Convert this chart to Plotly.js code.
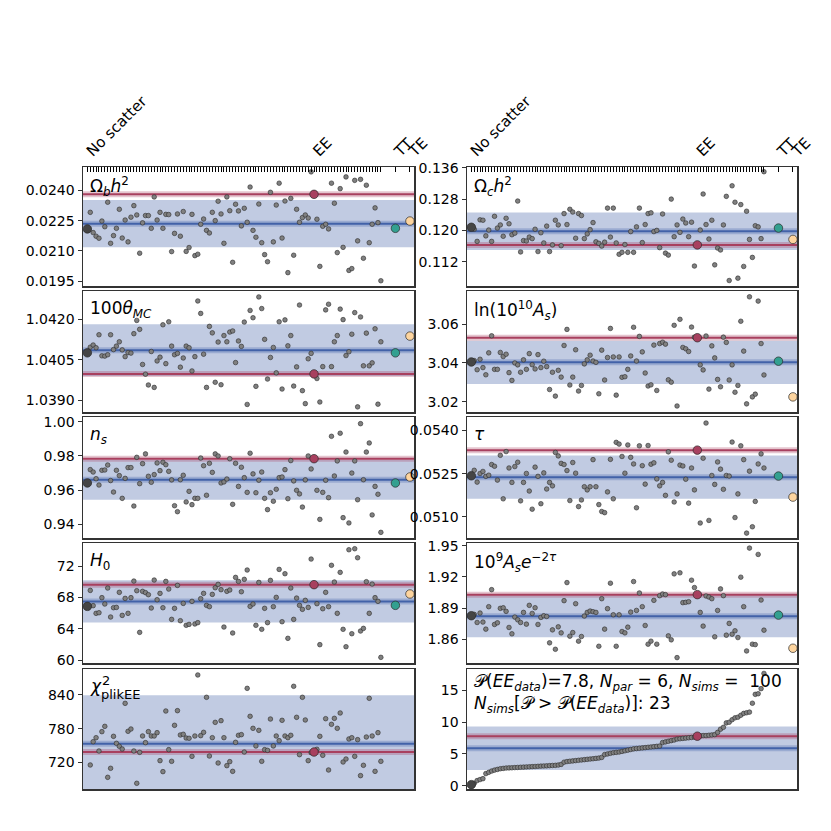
<!DOCTYPE html>
<html><head><meta charset="utf-8">
<script src="https://cdn.plot.ly/plotly-3.0.1.min.js"></script>
<style>html,body{margin:0;padding:0;background:#fff}</style>
</head><body><div id="chart" style="width:831px;height:831px"></div>
<script>
// ---------------- DATA ----------------
const panelLabels = [
  "Ω<sub><i>b</i></sub><i>h</i><sup>2</sup>",
  "Ω<sub><i>c</i></sub><i>h</i><sup>2</sup>",
  "100<i>θ</i><sub><i>MC</i></sub>",
  "ln(10<sup>10</sup><i>A</i><sub><i>s</i></sub>)",
  "<i>n</i><sub><i>s</i></sub>",
  "<i>τ</i>",
  "<i>H</i><sub>0</sub>",
  "10<sup>9</sup><i>A</i><sub><i>s</i></sub><i>e</i><sup>−2<i>τ</i></sup>",
  "<i>χ</i>",
  ""
];
const chi2Sup = "2", chi2Sub = "plikEE";
const topTickLabels = {0: "No scatter", 78: "EE", 106: "TT", 111: "TE"};
const eeIndex = 78, ttIndex = 106, teIndex = 111, nIndex = 101;

const omegabSims = [0.02291,0.02191,0.02173,0.02163,0.02248,0.02220,0.02341,0.02138,0.02176,0.02212,
0.02306,0.02164,0.02253,0.02145,0.02267,0.02324,0.02278,0.02089,0.02239,0.02275,
0.02275,0.02212,0.02367,0.02253,0.02291,0.02212,0.02281,0.02280,0.02097,0.02187,
0.02283,0.02173,0.02295,0.02098,0.02117,0.02281,0.02077,0.02084,0.02232,0.02258,
0.02202,0.02189,0.02291,0.02250,0.02346,0.02283,0.02138,0.02367,0.02299,0.02044,
0.02331,0.02298,0.02224,0.02311,0.02242,0.02416,0.02202,0.02168,0.02332,0.02141,
0.02082,0.02047,0.02390,0.02145,0.02327,0.02435,0.02164,0.02347,0.01993,0.02360,
0.02079,0.02306,0.02242,0.02265,0.02278,0.02263,0.02491,
0.02257,0.02024,0.02222,0.02232,0.02209,0.02435,0.02336,0.02092,0.02408,0.02118,0.02466,0.02004,0.02013,0.02449,0.02150,0.02454,0.02064,0.02425,0.02141,0.02232,0.02313,0.02240,0.01953];

const omegacSims = [0.1203,0.1172,0.1227,0.1226,0.1186,0.1201,0.1172,0.1236,0.1206,0.1214,
0.1185,0.1231,0.1217,0.1189,0.1193,0.1275,0.1145,0.1174,0.1173,0.1183,
0.1179,0.1203,0.1146,0.1194,0.1168,0.1211,0.1146,0.1163,0.1226,0.1214,
0.1161,0.1243,0.1215,0.1254,0.1247,0.1180,0.1243,0.1238,0.1179,0.1191,
0.1202,0.1220,0.1171,0.1167,0.1160,0.1170,0.1257,0.1183,0.1257,0.1168,
0.1139,0.1144,0.1164,0.1144,0.1197,0.1144,0.1209,0.1257,0.1169,0.1215,
0.1243,0.1245,0.1197,0.1200,0.1156,0.1242,0.1142,0.1137,0.1280,0.1184,
0.1214,0.1195,0.1229,0.1219,0.1184,0.1221,0.1109,
0.1201,0.1293,0.1215,0.1178,0.1226,0.1112,0.1155,0.1150,0.1214,0.1287,0.1072,0.1314,0.1272,0.1078,0.1266,0.1108,0.1249,0.1177,0.1131,0.1212,0.1209,0.1179,0.1350];

const thetaSims = [1.04097,1.04105,1.04095,1.04143,1.04065,1.04064,1.04069,1.04143,1.04088,1.04101,
1.04117,1.04087,1.04062,1.04077,1.04075,1.04147,1.04196,1.04163,1.04033,1.03997,
1.03957,1.04081,1.03948,1.04046,1.04060,1.04180,1.04036,1.04191,1.04101,1.04069,
1.04074,1.04023,1.04057,1.04101,1.04095,1.04009,1.04062,1.04268,1.04222,1.04071,
1.03948,1.04174,1.04150,1.03967,1.04116,1.03958,1.04140,1.04117,1.04153,1.04157,
1.04040,1.04120,1.04100,1.04190,
1.03885,1.04233,1.04206,1.03952,1.04283,1.04240,1.04126,1.03979,1.04059,1.04096,1.04002,1.04191,1.03942,1.04198,1.04102,1.04140,1.03953,1.04024,1.04253,1.03936,1.03888,1.04054,1.04074,
1.03981,1.03894,1.04025,1.04235,1.04256,1.04025,1.04117,1.04140,1.04238,1.04199,1.04066,1.04080,1.04145,1.04225,1.03876,1.04209,1.04028,1.04149,1.04028,1.04039,1.04165,1.03886,1.04117];

const lnAsSims = [3.0412,3.0365,3.0419,3.0376,3.0339,3.0452,3.0540,3.0367,3.0367,3.0454,
3.0433,3.0445,3.0350,3.0310,3.0400,3.0390,3.0352,3.0416,3.0367,3.0448,
3.0391,3.0369,3.0443,3.0376,3.0409,3.0381,3.0263,3.0352,3.0229,3.0362,
3.0327,3.0490,3.0573,3.0286,3.0327,3.0468,3.0255,3.0284,3.0395,3.0416,
3.0440,3.0410,3.0403,3.0241,3.0466,3.0312,3.0428,3.0578,3.0431,3.0234,
3.0431,3.0326,3.0329,3.0367,3.0436,3.0584,3.0410,3.0537,3.0457,3.0348,
3.0281,3.0287,3.0492,3.0258,3.0500,3.0507,3.0497,3.0313,3.0301,3.0594,
3.0178,3.0625,3.0480,3.0473,3.0459,3.0585,3.0533,
3.0390,3.0364,3.0539,3.0265,3.0488,3.0426,3.0315,3.0277,3.0533,3.0506,3.0312,3.0390,3.0249,3.0284,3.0615,3.0461,3.0189,3.0741,3.0225,3.0239,3.0719,3.0500,3.0338];

const nsSims = [0.9720,0.9706,0.9667,0.9630,0.9716,0.9718,0.9747,0.9656,0.9589,0.9716,
0.9685,0.9552,0.9669,0.9732,0.9732,0.9507,0.9792,0.9638,0.9755,0.9812,
0.9681,0.9646,0.9691,0.9759,0.9714,0.9763,0.9749,0.9710,0.9660,0.9509,
0.9474,0.9661,0.9687,0.9531,0.9593,0.9515,0.9552,0.9552,0.9788,0.9743,
0.9570,0.9757,0.9704,0.9812,0.9800,0.9642,0.9648,0.9665,0.9784,0.9517,
0.9757,0.9622,0.9734,0.9673,0.9587,0.9816,0.9695,0.9585,0.9658,0.9706,
0.9552,0.9486,0.9585,0.9535,0.9605,0.9673,0.9677,0.9720,0.9550,0.9773,
0.9654,0.9599,0.9578,0.9501,0.9660,0.9800,0.9724,
0.9599,0.9429,0.9587,0.9658,0.9556,0.9915,0.9683,0.9771,0.9933,0.9439,0.9823,0.9408,0.9700,0.9771,0.9544,0.9989,0.9661,0.9823,0.9876,0.9455,0.9622,0.9576,0.9353];

const tauSims = [0.05262,0.05221,0.05251,0.05258,0.05241,0.05245,0.05282,0.05276,0.05228,0.05314,
0.05163,0.05327,0.05270,0.05220,0.05275,0.05290,0.05156,0.05220,0.05251,0.05190,
0.05127,0.05273,0.05241,0.05146,0.05253,0.05197,0.05220,0.05208,0.05324,0.05312,
0.05286,0.05282,0.05261,0.05157,0.05289,0.05252,0.05136,0.05159,0.05205,0.05194,
0.05205,0.05299,0.05205,0.05143,0.05119,0.05115,0.05187,0.05300,0.05163,0.05359,
0.05353,0.05310,0.05252,0.05350,0.05307,0.05284,0.05132,0.05347,0.05278,0.05214,
0.05348,0.05283,0.05288,0.05232,0.05208,0.05220,0.05175,0.05326,0.05297,0.05152,
0.05180,0.05280,0.05277,0.05231,0.05148,0.05270,0.05194,
0.05079,0.05304,0.05426,0.05088,0.05244,0.05213,0.05291,0.05266,0.05196,0.05244,0.05242,0.05360,0.05098,0.05180,0.05347,0.05299,0.05044,0.05259,0.05066,0.05154,0.05284,0.05319,0.05270];

const h0Sims = [68.89,66.94,65.96,66.04,67.96,67.15,69.19,65.49,66.68,66.72,
68.64,65.70,67.87,65.96,67.96,70.08,68.85,63.53,68.77,68.60,
68.34,66.64,70.21,67.70,68.51,66.68,70.04,69.06,65.19,66.60,
69.53,65.02,67.23,64.43,64.55,67.49,64.60,64.77,67.83,68.51,
66.98,66.81,68.38,69.23,69.66,68.98,64.21,68.77,68.94,63.45,
70.55,70.04,68.72,70.30,71.49,66.85,67.15,64.43,69.91,63.92,
66.60,64.77,70.17,66.81,68.00,71.57,64.89,71.02,62.77,69.19,
65.19,67.91,66.98,66.47,67.62,66.72,72.89,
67.19,61.96,66.55,68.64,66.81,72.09,69.96,65.96,71.19,63.92,61.70,74.08,63.36,74.21,73.06,63.70,64.04,70.00,65.96,69.70,67.96,67.49,60.34];

const asExpSims = [1.8839,1.8761,1.8852,1.8765,1.8697,1.8913,1.9077,1.8742,1.8758,1.8897,
1.8903,1.8868,1.8713,1.8652,1.8813,1.8787,1.8761,1.8858,1.8745,1.8926,
1.8848,1.8903,1.8742,1.8810,1.8826,1.8819,1.8565,1.8690,1.8503,1.8719,
1.8661,1.8971,1.9145,1.8629,1.8664,1.8942,1.8581,1.8626,1.8823,1.8858,
1.8871,1.8865,1.8858,1.8532,1.8990,1.8697,1.8894,1.9139,1.8835,1.8532,
1.8835,1.8674,1.8661,1.8716,1.8861,1.9155,1.8877,1.9045,1.8913,1.8732,
1.8552,1.8581,1.8974,1.8552,1.9019,1.9035,1.9029,1.8632,1.8594,1.9229,
1.8423,1.9239,1.8952,1.8955,1.8961,1.9168,1.9097,
1.8858,1.8726,1.9016,1.9006,1.8990,1.8623,1.8877,1.9084,1.9019,1.8639,1.8752,1.8648,1.8681,1.8616,1.9197,1.8913,1.8487,1.9477,1.8552,1.8548,1.9416,1.8977,1.8687];

const chi2Sims = [715.6,756.9,764.0,740.4,774.7,784.1,693.7,709.7,766.4,754.0,
748.7,743.9,824.9,775.3,779.4,740.4,683.1,738.0,767.0,755.2,
774.7,767.0,767.0,772.9,723.3,703.8,811.3,742.8,722.1,785.9,
811.9,768.8,770.0,763.4,762.9,730.9,767.0,875.2,767.6,773.5,
835.6,731.5,764.0,791.2,719.1,794.2,764.0,714.4,721.5,704.3,
755.8,768.2,769.4,738.6,851.5,801.9,780.6,749.3,777.0,722.1,
742.8,741.6,797.1,749.3,767.0,758.7,794.8,767.0,764.0,768.2,
855.1,800.1,733.9,835.6,795.4,723.3,737.4,
743.4,766.4,732.7,797.7,706.7,787.7,798.3,780.6,807.8,720.9,726.2,761.7,764.0,730.9,760.5,696.7,715.0,765.2,833.8,767.0,704.3,772.9,722.1];

const probSims = [0.37,0.8,0.96,1.1,1.9,2.1,2.3,2.45,2.56,2.67,
2.72,2.78,2.8,2.82,2.85,2.87,2.9,2.92,2.95,2.97,
3.0,3.02,3.05,3.08,3.1,3.12,3.15,3.18,3.2,3.25,
3.35,3.7,3.8,3.85,3.9,3.95,4.0,4.05,4.1,4.15,
4.2,4.25,4.3,4.35,4.45,4.9,5.0,5.1,5.2,5.25,
5.3,5.4,5.5,5.6,5.7,5.8,5.85,5.9,5.95,6.0,
6.05,6.1,6.15,6.2,6.25,6.8,6.9,7.0,7.1,7.2,
7.35,7.4,7.45,7.5,7.55,7.6,7.65,
7.85,7.9,7.9,7.95,8.0,8.05,8.4,8.9,9.2,9.9,10.0,10.4,10.7,10.8,11.1,11.4,11.5,11.6,13.0,14.4,14.5,15.3,17.7];

const noScatterVals = [0.02209, 0.1208, 1.04076, 3.0405, 0.9642, 0.05243, 66.85, 1.8826, null, 0.16];
const eeVals        = [0.0238, 0.1163, 1.03998, 3.0530, 0.9784, 0.05332, 69.62, 1.9029, 738.6, 7.8];
const ttVals        = [0.02212, 0.1206, 1.04076, 3.0409, 0.9642, 0.05242, 66.98, 1.8832, null, null];
const teVals        = [0.02248, 0.1177, 1.04138, 3.0225, 0.9677, 0.05169, 68.43, 1.8513, null, null];
const meanVals      = [0.02235, 0.1198, 1.04086, 3.0403, 0.9661, 0.05238, 67.48, 1.8822, 753.4, 5.9];
const sigmaVals     = [0.00117, 0.0048, 0.00096, 0.0112, 0.0117, 0.00075, 2.70, 0.0202, 85.7, 3.42];
const nPar = 6;

const yTicks = [
  [0.0195, 0.0210, 0.0225, 0.0240],
  [0.112, 0.120, 0.128, 0.136],
  [1.0390, 1.0405, 1.0420],
  [3.02, 3.04, 3.06],
  [0.94, 0.96, 0.98, 1.00],
  [0.0510, 0.0525, 0.0540],
  [60, 64, 68, 72],
  [1.86, 1.89, 1.92, 1.95],
  [720, 780, 840],
  [0, 5, 10, 15]
];
const yFormats = ['.4f','.3f','.4f','.2f','.2f','.4f','d','.2f','d','d'];
const yRanges = [
  [0.01927, 0.02515], [0.1058, 0.1362], [1.03857, 1.04305], [3.0147, 3.0771],
  [0.9320, 1.0028], [0.05027, 0.05447], [59.62, 74.94], [1.8371, 1.9526],
  [673.0, 885.8], [-0.53, 18.4]
];
const allSims = [omegabSims, omegacSims, thetaSims, lnAsSims, nsSims, tauSims, h0Sims, asExpSims, chi2Sims, probSims];

// ---------------- LAYOUT ----------------
const S = 831;
const colPx = [[83, 414], [467, 797]];
const rowPx = [[167, 286], [291, 412], [417, 538], [543, 663], [669, 789]];
const xRange = [-1.5, 112.4];

const FONT = 'DejaVu Sans, Liberation Sans, sans-serif';
const cGray = '#808080', cEdge = '#2a2a2a', cDark = '#454545';
const cRed = '#a8405f', cBlue = '#4262a8', cTeal = '#33a090', cPeach = '#fdd49e';

const simX = allSims[0].map((_, k) => (k + 1 < eeIndex ? k + 1 : k + 2));
const topVals = [];
for (let i = 0; i <= nIndex; i++) topVals.push(i);
topVals.push(ttIndex, teIndex);
const topText = topVals.map(v => topTickLabels[v] || '');

const traces = [];
const layout = {
  width: S, height: S,
  margin: {l: 0, r: 0, t: 0, b: 0},
  paper_bgcolor: '#fff', plot_bgcolor: '#fff',
  showlegend: false,
  font: {family: FONT, color: '#000'},
  shapes: [], annotations: []
};

for (let p = 0; p < 10; p++) {
  const n = p + 1;
  const r = Math.floor(p / 2), c = p % 2;
  const xa = n === 1 ? 'x' : 'x' + n, ya = n === 1 ? 'y' : 'y' + n;
  const xKey = n === 1 ? 'xaxis' : 'xaxis' + n, yKey = n === 1 ? 'yaxis' : 'yaxis' + n;
  layout[xKey] = {
    domain: [colPx[c][0] / S, colPx[c][1] / S],
    range: xRange, anchor: ya,
    showline: true, mirror: true, linecolor: '#333', linewidth: 1.5,
    showgrid: false, zeroline: false
  };
  if (r === 0) {
    Object.assign(layout[xKey], {
      side: 'top', tickmode: 'array', tickvals: topVals, ticktext: topText,
      ticks: 'inside', ticklen: 5, tickwidth: 1, tickcolor: '#000',
      tickangle: -45, tickfont: {family: FONT, size: 15, color: '#000'}
    });
  } else {
    Object.assign(layout[xKey], {showticklabels: false, ticks: ''});
  }
  layout[yKey] = {
    domain: [1 - rowPx[r][1] / S, 1 - rowPx[r][0] / S],
    range: yRanges[p], anchor: xa,
    tickmode: 'array', tickvals: yTicks[p], tickformat: yFormats[p],
    ticks: 'outside', ticklen: 4, tickwidth: 1, tickcolor: '#333',
    tickfont: {family: FONT, size: 14, color: '#000'},
    showline: true, mirror: true, linecolor: '#333', linewidth: 1.5,
    showgrid: false, zeroline: false
  };

  // band + lines
  const m = meanVals[p], s = sigmaVals[p], e = eeVals[p];
  layout.shapes.push({type: 'rect', xref: xa + ' domain', yref: ya, x0: 0, x1: 1,
    y0: m - s, y1: m + s, fillcolor: 'rgba(66,98,168,0.33)', line: {width: 0}, layer: 'below'});
  [[m, cBlue, 'rgba(66,98,168,0.30)'], [e, cRed, 'rgba(168,64,95,0.30)']].forEach(([v, col, halo]) => {
    layout.shapes.push({type: 'line', xref: xa + ' domain', yref: ya, x0: 0, x1: 1, y0: v, y1: v,
      line: {color: halo, width: 6}, layer: 'below'});
    layout.shapes.push({type: 'line', xref: xa + ' domain', yref: ya, x0: 0, x1: 1, y0: v, y1: v,
      line: {color: col, width: 2}, layer: 'below'});
  });

  // simulations
  traces.push({type: 'scatter', mode: 'markers', xaxis: xa, yaxis: ya,
    x: simX, y: allSims[p], hoverinfo: 'skip',
    marker: {size: 4.6, color: cGray, line: {color: cEdge, width: 0.6}}});
  // special points
  const specials = [[0, noScatterVals[p], cDark], [eeIndex, e, cRed], [ttIndex, ttVals[p], cTeal], [teIndex, teVals[p], cPeach]];
  specials.forEach(([xv, yv, col]) => {
    if (yv === null) return;
    traces.push({type: 'scatter', mode: 'markers', xaxis: xa, yaxis: ya,
      x: [xv], y: [yv], hoverinfo: 'skip',
      marker: {size: 8.5, color: col, line: {color: cEdge, width: 0.7}}});
  });

  if (panelLabels[p]) {
    layout.annotations.push({xref: xa + ' domain', yref: ya + ' domain', x: 0.015, y: 0.955,
      xanchor: 'left', yanchor: 'top', showarrow: false, text: panelLabels[p],
      font: {family: FONT, size: 17, color: '#000'}});
  }
}

// stacked super/subscript of the chi^2 label
layout.annotations.push({xref: 'x9 domain', yref: 'y9 domain', x: 0.052, y: 0.985,
  xanchor: 'left', yanchor: 'top', showarrow: false, text: chi2Sup,
  font: {family: FONT, size: 13, color: '#000'}});
layout.annotations.push({xref: 'x9 domain', yref: 'y9 domain', x: 0.047, y: 0.865,
  xanchor: 'left', yanchor: 'top', showarrow: false, text: chi2Sub,
  font: {family: FONT, size: 13, color: '#000'}});

// statistics text in the last panel
const probEE = eeVals[9];
const nAbove = probSims.filter(v => v > probEE).length;
const P = '𝒫';
layout.annotations.push({xref: 'x10 domain', yref: 'y10 domain', x: 0.015, y: 1.0,
  xanchor: 'left', yanchor: 'top', showarrow: false, align: 'left',
  text: P + '(<i>EE</i><sub><i>data</i></sub>)=' + probEE.toFixed(1) +
        ', <i>N</i><sub><i>par</i></sub> = ' + nPar +
        ', <i>N</i><sub><i>sims</i></sub> =  ' + probSims.length +
        '<br><i>N</i><sub><i>sims</i></sub>[' + P + ' > ' + P + '(<i>EE</i><sub><i>data</i></sub>)]: ' + nAbove,
  font: {family: FONT, size: 17, color: '#000'}});

Plotly.newPlot('chart', traces, layout, {staticPlot: true, displayModeBar: false});
</script></body></html>
